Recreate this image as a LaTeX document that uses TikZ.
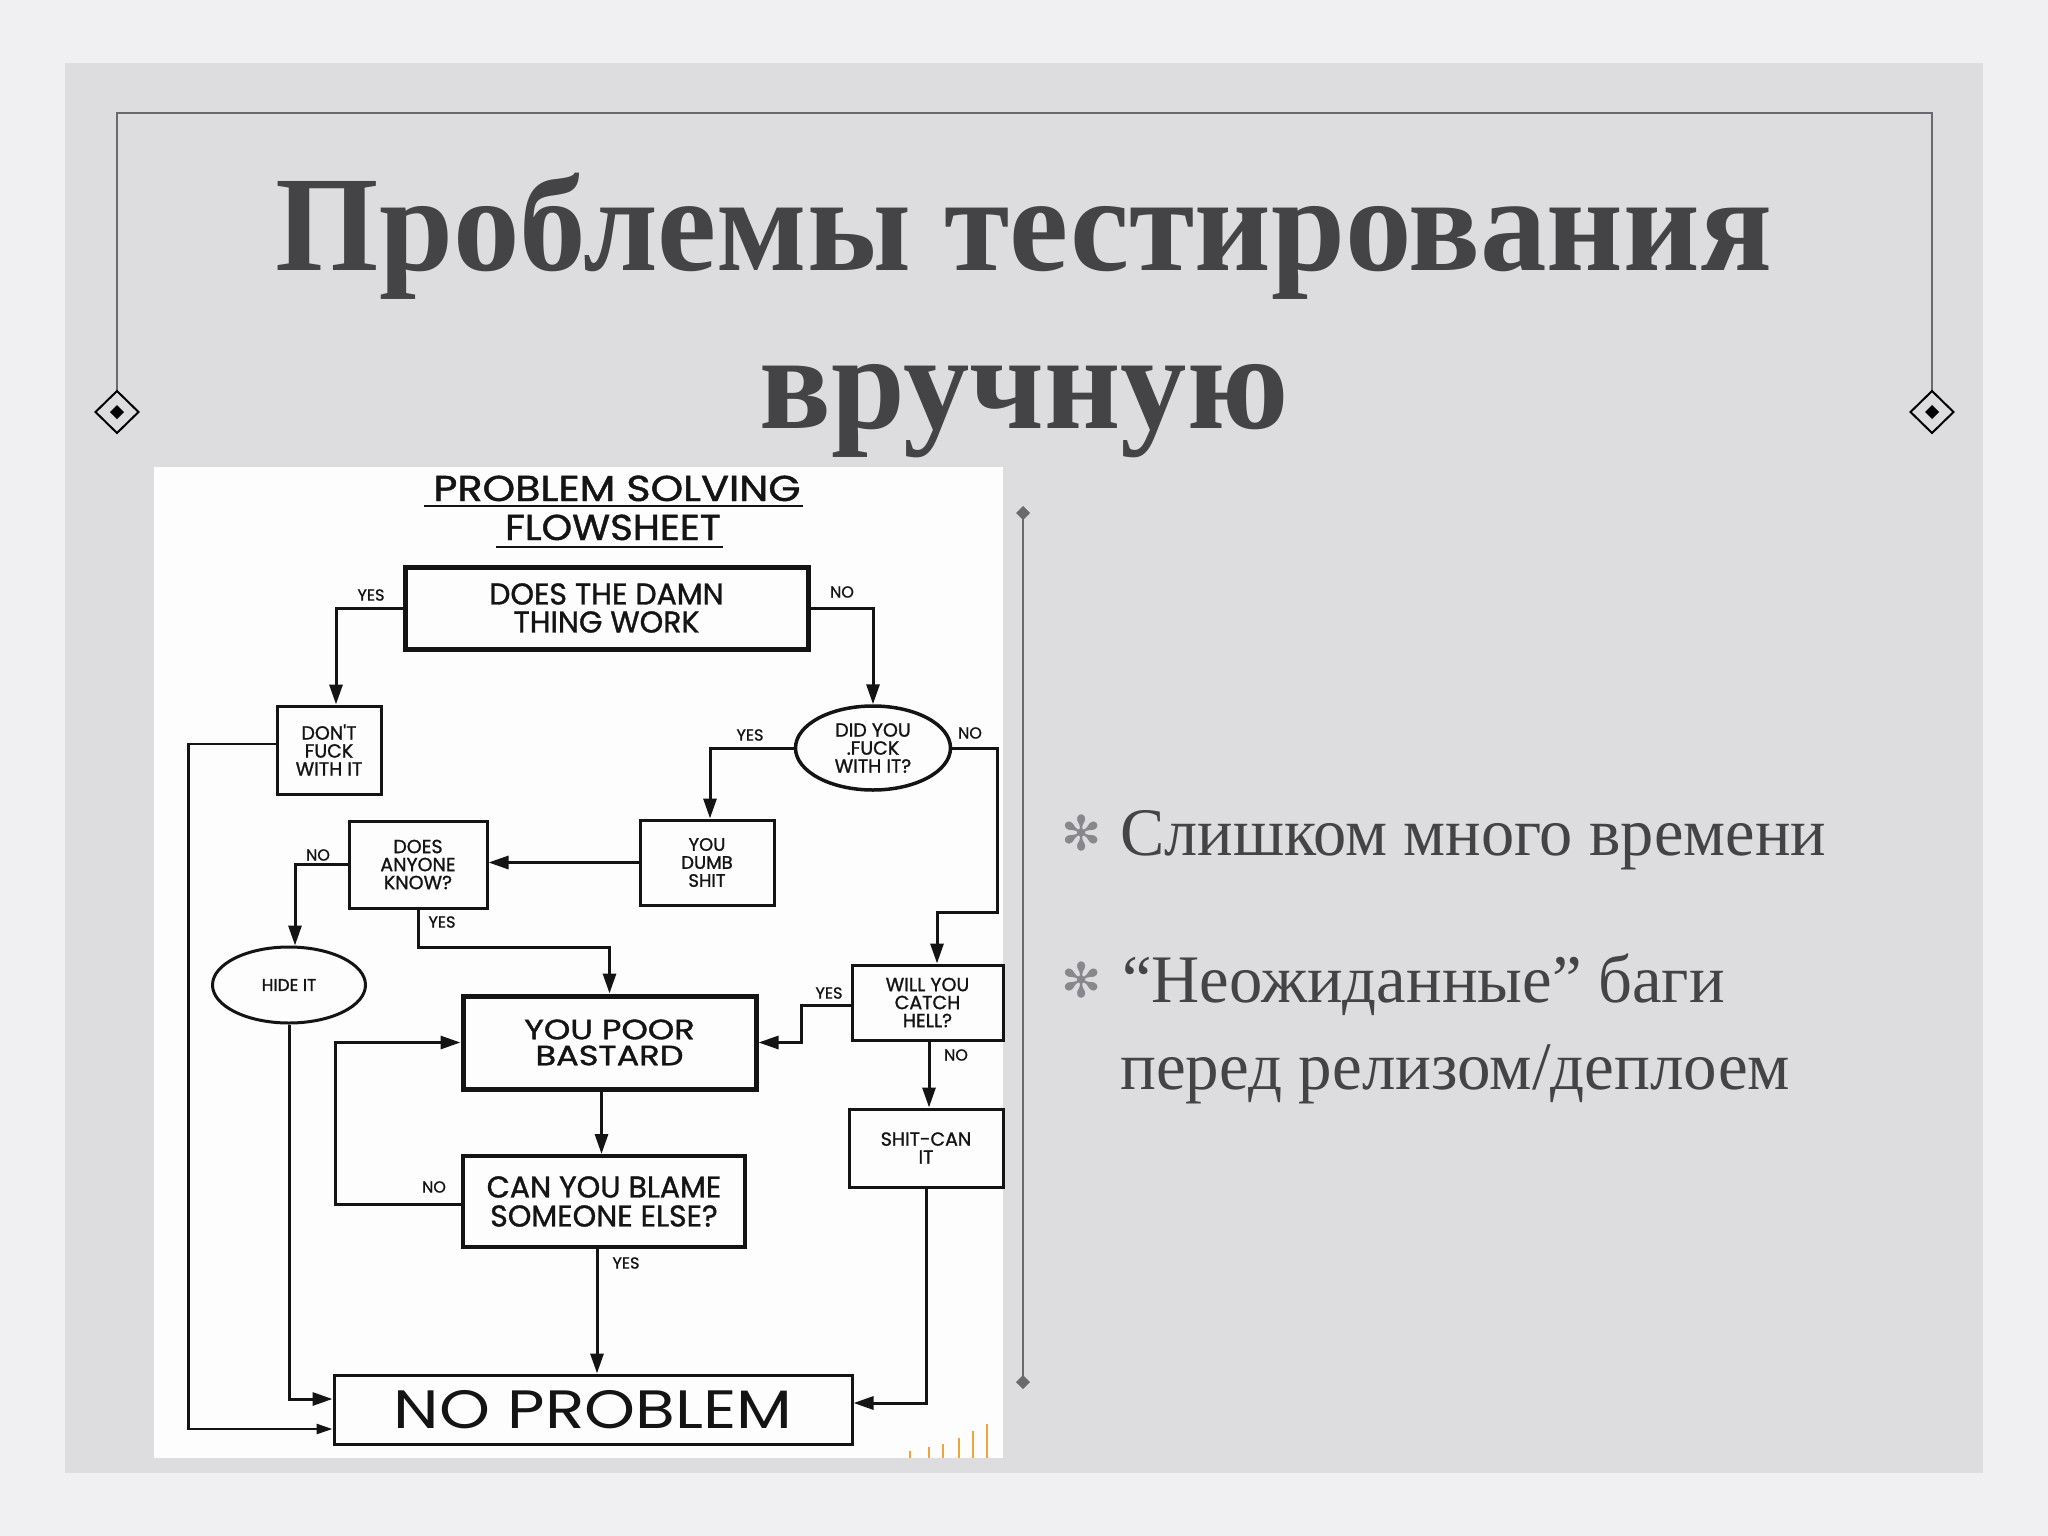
\documentclass[tikz,border=0pt]{standalone}
\usepackage{fontspec}
\setmainfont{Liberation Serif}
\newfontfamily\hand{Poppins}[FakeBold=1.2]
\newfontfamily\handthin{Poppins}
\newfontfamily\symf{DejaVu Sans}
\usetikzlibrary{arrows.meta,calc,shapes.geometric}

\definecolor{outerbg}{RGB}{240,240,242}
\definecolor{panel}{RGB}{221,221,224}
\definecolor{titlec}{RGB}{68,68,70}
\definecolor{framec}{RGB}{105,105,110}
\definecolor{bulletc}{RGB}{135,135,140}
\definecolor{ink}{RGB}{20,20,20}
\definecolor{paper}{RGB}{253,253,253}
\definecolor{orangebar}{RGB}{240,165,60}

\begin{document}
\begin{tikzpicture}[x=1pt,y=-1pt,
  fb/.style={draw=ink, line width=3pt, rectangle, inner sep=0pt, align=center, text=ink},
  fe/.style={draw=ink, line width=3pt, ellipse, inner sep=0pt, align=center, text=ink},
  sm/.style={font=\hand\fontsize{19}{18}\selectfont},
  lbl/.style={font=\hand\fontsize{16}{16}\selectfont, text=ink, inner sep=0pt},
  arr/.style={draw=ink, line width=3pt, -{Triangle[length=20pt,width=13pt]}},
  ln/.style={draw=ink, line width=3pt},
  bul/.style={text=bulletc, font=\symf\fontsize{48}{48}\selectfont, inner sep=0pt},
  btxt/.style={anchor=base west, text=titlec, font=\fontsize{68}{87}\selectfont, inner sep=0pt},
]
\useasboundingbox (0,0) rectangle (2048,1536);
\fill[outerbg] (0,0) rectangle (2048,1536);
\fill[panel] (65,63) rectangle (1983,1473);

% frame
\draw[framec, line width=1.5pt] (117,391) -- (117,113) -- (1932,113) -- (1932,391);
\draw[black, line width=2pt] (117,391) -- (138.5,412) -- (117,433) -- (95.5,412) -- cycle;
\fill[black] (117,405) -- (124,412) -- (117,419) -- (110,412) -- cycle;
\draw[black, line width=2pt] (1932,391) -- (1953.5,412) -- (1932,433) -- (1910.5,412) -- cycle;
\fill[black] (1932,405) -- (1939,412) -- (1932,419) -- (1925,412) -- cycle;

% title
\node[anchor=base, font=\bfseries\fontsize{136}{150}\selectfont, text=titlec, inner sep=0pt] (t1) at (1024,270) {\scalebox{0.978}[1]{Проблемы тестирования}};
\node[anchor=base, font=\bfseries\fontsize{136}{150}\selectfont, text=titlec, inner sep=0pt] (t2) at (1024,428) {\scalebox{0.975}[1]{вручную}};

% separator
\draw[framec, line width=1.5pt] (1023,513) -- (1023,1382);
\fill[framec] (1023,506) -- (1030,513) -- (1023,520) -- (1016,513) -- cycle;
\fill[framec] (1023,1375) -- (1030,1382) -- (1023,1389) -- (1016,1382) -- cycle;

% bullets
\node[bul] (b1) at (1082,833) {✻};
\node[bul] (b2) at (1082,980) {✻};
\node[btxt] (l1) at (1120,855) {\scalebox{0.976}[1]{Слишком много времени}};
\node[btxt] (l2) at (1122,1002) {\scalebox{0.98}[1]{“Неожиданные” баги}};
\node[btxt] (l3) at (1120,1089) {\scalebox{0.985}[1]{перед релизом/деплоем}};

% flowchart paper
\fill[paper] (154,467) rectangle (1003,1458);
\foreach \x/\t in {910/1451,929/1447,943/1444,959/1438,973/1431,987/1424}
  \draw[orangebar, line width=2.5pt] (\x,\t) -- (\x,1458);

\node[anchor=base, font=\hand\fontsize{36}{36}\selectfont, text=ink, inner sep=0pt] (h1) at (617,501) {\scalebox{1.15}[1]{PROBLEM SOLVING}};
\node[anchor=base, font=\hand\fontsize{36}{36}\selectfont, text=ink, inner sep=0pt] (h2) at (613,540) {\scalebox{1.08}[1]{FLOWSHEET}};
\draw[ln, line width=2.5pt] (424,506) -- (803,506);
\draw[ln, line width=2.5pt] (496,547) -- (723,547);

% nodes
\node[fb, line width=5pt, minimum width=403pt, minimum height=82pt, font=\hand\fontsize{30}{28}\selectfont] (dtw) at (606.5,608) {DOES THE DAMN\\THING WORK};
\node[fb, sm, minimum width=104pt, minimum height=88pt] (dont) at (329,750) {DON'T\\FUCK\\WITH IT};
\node[fe, sm, line width=3.5pt, minimum width=155pt, minimum height=84pt] (didyou) at (873,748) {DID YOU\\.FUCK\\WITH IT?};
\node[fb, sm, minimum width=134pt, minimum height=85pt, font=\hand\fontsize{18}{18}\selectfont] (dumb) at (707,862.5) {YOU\\DUMB\\SHIT};
\node[fb, sm, minimum width=138pt, minimum height=87pt] (anyone) at (418,864.5) {DOES\\ANYONE\\KNOW?};
\node[fe, minimum width=153pt, minimum height=76pt, font=\hand\fontsize{17}{17}\selectfont] (hide) at (289,985) {HIDE IT};
\node[fb, line width=5pt, minimum width=293pt, minimum height=93pt, font=\hand\fontsize{28}{26}\selectfont] (ypb) at (609.5,1042.5) {\scalebox{1.2}[1]{YOU POOR}\\\scalebox{1.2}[1]{BASTARD}};
\node[fb, sm, minimum width=151pt, minimum height=75pt] (will) at (927.5,1002.5) {WILL YOU\\CATCH\\HELL?};
\node[fb, sm, minimum width=154pt, minimum height=78pt] (shit) at (926,1148) {SHIT-CAN\\IT};
\node[fb, line width=4pt, minimum width=282pt, minimum height=91pt, font=\hand\fontsize{30}{29}\selectfont] (cyb) at (604,1201.5) {CAN YOU BLAME\\SOMEONE ELSE?};
\node[fb, minimum width=518pt, minimum height=69pt, font=\handthin\fontsize{54}{54}\selectfont] (nop) at (593,1409.5) {\scalebox{1.2}[1]{NO PROBLEM}};

% connectors
\draw[arr] (dtw.west) -| ([xshift=7pt]dont.north);
\node[lbl] (y1) at (371,595) {YES};
\draw[arr] (dtw.east) -| (didyou.north);
\node[lbl] (n1) at (842,592) {NO};

\draw[arr, line width=2.5pt, -{Triangle[length=16pt,width=10pt]}] ([yshift=6pt]dont.west) -- ++(-87,0) |- ([yshift=-19.5pt]nop.west);

\draw[arr] (didyou.west) -| ([xshift=3pt]dumb.north);
\node[lbl] (y2) at (750,735) {YES};
\coordinate (c1) at (997,912);
\draw[arr] (didyou.east) -| (c1) -| ([xshift=9.5pt]will.north);
\node[lbl] (n2) at (970,733) {NO};

\draw[arr] (dumb.west) -- (dumb.west -| anyone.east);

\draw[arr] (anyone.west) -| ([xshift=6pt]hide.north);
\node[lbl] (n3) at (318,855) {NO};
\draw[arr] (anyone.south) -- ++(0,38) -| (ypb.north);
\node[lbl] (y3) at (442,922) {YES};

\draw[arr] (hide.south) |- ([yshift=10.5pt]nop.west);

\draw[arr] ([yshift=-2.5pt]will.west) -- ++(-49,0) |- (ypb.east);
\node[lbl] (y4) at (829,993) {YES};
\draw[arr] ([xshift=1.5pt]will.south) -- ([xshift=1.5pt]will.south |- shit.north);
\node[lbl] (n4) at (956,1055) {NO};

\draw[arr] (shit.south) |- ([yshift=6.5pt]nop.east);

\draw[arr] ([xshift=-8pt]ypb.south) -- ([xshift=-8pt]ypb.south |- cyb.north);

\draw[arr] ([yshift=-2.5pt]cyb.west) -- ++(-126,0) |- (ypb.west);
\node[lbl] (n5) at (434,1187) {NO};
\draw[arr] ([xshift=-7pt]cyb.south) -- ([xshift=-7pt]cyb.south |- nop.north);
\node[lbl] (y5) at (626,1263) {YES};
\end{tikzpicture}
\end{document}
